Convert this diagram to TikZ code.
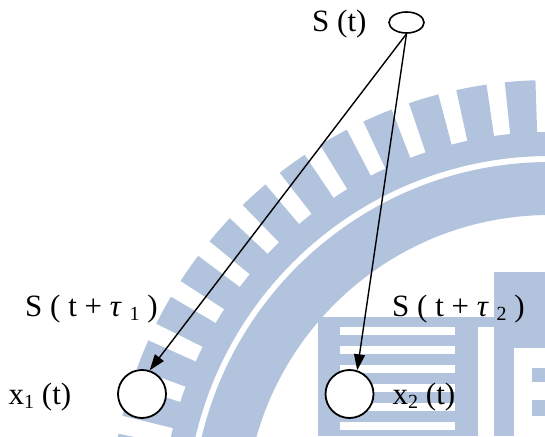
\documentclass[tikz,border=0pt]{standalone}
\usepackage{fontspec}
\setmainfont{Liberation Serif}
\usetikzlibrary{arrows.meta,calc,shapes.geometric}
\definecolor{wm}{RGB}{178,195,222}
\begin{document}
\begin{tikzpicture}[x=1pt,y=1pt,
  lbl/.style={inner sep=0pt, anchor=base west, font=\fontsize{31}{31}\selectfont},
  recv/.style={circle, draw, line width=1.8pt, fill=white, minimum size=48pt, inner sep=0pt},
  src/.style={ellipse, draw, line width=1.6pt, fill=white, minimum width=35pt, minimum height=21pt, inner sep=0pt},
  arr/.style={line width=1.4pt, -{Triangle[length=16pt,width=11pt]}}]
\useasboundingbox (0,0) rectangle (545,436);
% watermark
\begin{scope}
\clip (0,0) rectangle (545,436);
\coordinate (C) at (550,-84);
\fill[wm, even odd rule] (C) circle[radius=388] (C) circle[radius=364];
\fill[wm, even odd rule] (C) circle[radius=358] (C) circle[radius=305];
\foreach \a in {87.5,93.9,...,172} {
  \fill[wm] ($(C)+(\a-2:387)$) arc[start angle=\a-2,end angle=\a+2,radius=387]
    -- ($(C)+(\a+2:440)$) arc[start angle=\a+2,end angle=\a-2,radius=440] -- cycle;
}
\fill[wm] (318,0) rectangle (494,119);
\fill[white] (478,0) rectangle (494,109);
\foreach \y in {101,82,63,44,25,6} { \fill[white] (340,\y) rectangle (455,\y+8); }
\fill[wm] (494,0) rectangle (545,164);
\fill[white] (514,0) rectangle (545,88);
\fill[wm] (532,54) rectangle (545,68);
\fill[wm] (532,20) rectangle (545,36);
\end{scope}
% nodes
\node[src] (s) at (406.5,413.5) {};
\node[recv] (x1) at (142,42) {};
\node[recv] (x2) at (349.5,42) {};
\node[lbl] (ls) at (312,404.3) {S (t)};
\node[lbl] (lx1) at (8.5,32) {x\raisebox{-4pt}{\fontsize{20}{20}\selectfont 1} (t)};
\node[lbl] (lx2) at (392.5,32) {x\raisebox{-4pt}{\fontsize{20}{20}\selectfont 2} (t)};
\node[lbl] (ld1) at (25,119.5) {S ( t + \textit{τ} \raisebox{-4pt}{\fontsize{20}{20}\selectfont 1} )};
\node[lbl] (ld2) at (392,119.5) {S ( t + \textit{τ} \raisebox{-4pt}{\fontsize{20}{20}\selectfont 2} )};
% connectors
\draw[arr] (s.south) -- (x1.72);
\draw[arr] (s.south) -- (x2.72);
\end{tikzpicture}
\end{document}
